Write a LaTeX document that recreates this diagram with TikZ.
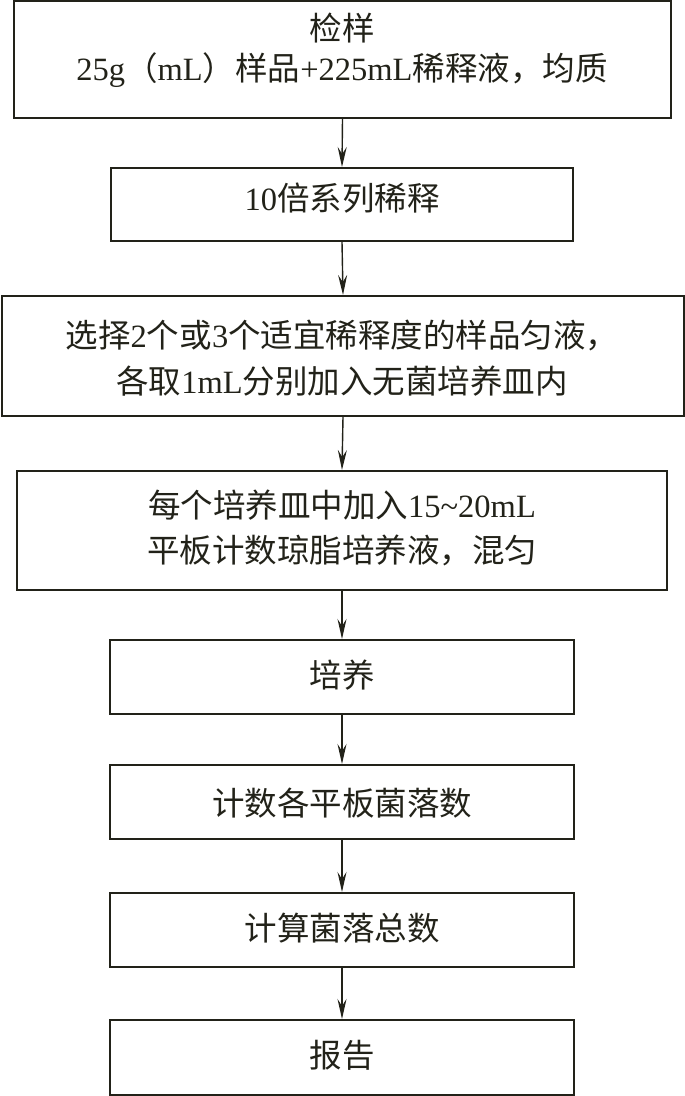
\documentclass[tikz,border=0pt]{standalone}
\usepackage{fontspec}
\setmainfont{Liberation Serif}
\newfontfamily\cjk{Noto Sans CJK SC}
\newcommand\zh[1]{{\cjk #1}}
\usetikzlibrary{arrows.meta}
\definecolor{boxc}{HTML}{222219}
\begin{document}
\begin{tikzpicture}[x=1pt,y=-1pt,
  box/.style={draw=boxc, line width=2pt, inner sep=0pt, fill=white},
  txt/.style={anchor=base, inner sep=0pt, text=boxc, font=\fontsize{32.5}{38}\selectfont},
  arr/.style={-{Stealth[length=20pt,width=9pt,inset=7pt]}, line width=1.4pt, draw=boxc}]
\useasboundingbox[fill=white] (0,0) rectangle (685,1096);
% boxes
\node[box, minimum width=657pt, minimum height=117pt] (b1) at (342.5,59.5) {};
\node[box, minimum width=462pt, minimum height=73pt]  (b2) at (342,204.5) {};
\node[box, minimum width=682pt, minimum height=120pt] (b3) at (343,356) {};
\node[box, minimum width=650pt, minimum height=119pt] (b4) at (342,530.5) {};
\node[box, minimum width=464pt, minimum height=74pt]  (b5) at (342,677) {};
\node[box, minimum width=464pt, minimum height=74pt]  (b6) at (342,802) {};
\node[box, minimum width=464pt, minimum height=74pt]  (b7) at (342,930) {};
\node[box, minimum width=464pt, minimum height=75pt]  (b8) at (342,1057.5) {};
% texts
\node[txt] (t1a) at (342,40) {\zh{检样}};
\node[txt] (t1b) at (342,80) {25g\zh{（}mL\zh{）样品}+225mL\zh{稀释液，均质}};
\node[txt] (t2)  at (342,210) {10\zh{倍系列稀释}};
\node[txt] (t3a) at (342,347) {\zh{选择}2\zh{个或}3\zh{个适宜稀释度的样品匀液，}};
\node[txt] (t3b) at (342,393) {\zh{各取}1mL\zh{分别加入无菌培养皿内}};
\node[txt] (t4a) at (342,517) {\zh{每个培养皿中加入}15\textasciitilde 20mL};
\node[txt] (t4b) at (342,562) {\zh{平板计数琼脂培养液，混匀}};
\node[txt] (t5)  at (342,687) {\zh{培养}};
\node[txt] (t6)  at (342,815) {\zh{计数各平板菌落数}};
\node[txt] (t7)  at (342,940) {\zh{计算菌落总数}};
\node[txt] (t8)  at (342,1067) {\zh{报告}};
% arrows
\draw[arr] (b1.south) -- (b2.north);
\draw[arr] (b2.south) -- (b3.north);
\draw[arr] (b3.south) -- (b4.north);
\draw[arr] (b4.south) -- (b5.north);
\draw[arr] (b5.south) -- (b6.north);
\draw[arr] (b6.south) -- (b7.north);
\draw[arr] (b7.south) -- (b8.north);
\end{tikzpicture}
\end{document}
